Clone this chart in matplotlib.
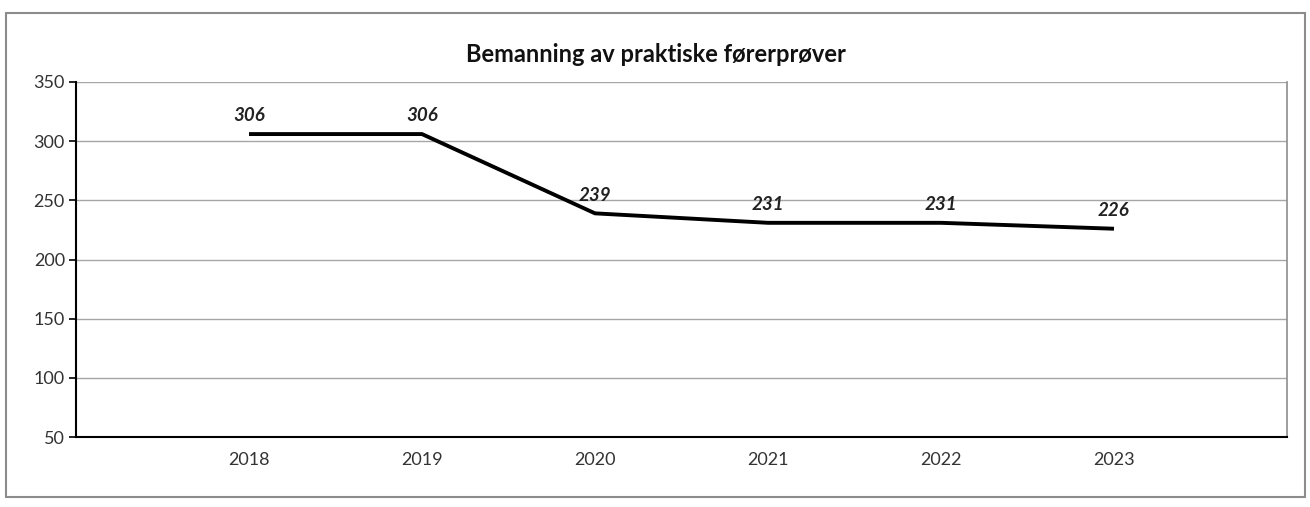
import matplotlib
matplotlib.use("Agg")
import matplotlib.pyplot as plt
from matplotlib.patches import Rectangle

years = ["2018", "2019", "2020", "2021", "2022", "2023"]
values = [306, 306, 239, 231, 231, 226]
title = "Bemanning av praktiske førerprøver"
yticks = [50, 100, 150, 200, 250, 300, 350]

plt.rcParams['font.family'] = ['Lato', 'DejaVu Sans']

W, H = 1310, 507
fig = plt.figure(figsize=(W / 100, H / 100), dpi=100)
fig.patches.append(Rectangle((6 / W, 1 - 497 / H), (1305 - 6) / W, (497 - 13) / H,
                             transform=fig.transFigure, fill=False,
                             edgecolor="#8c8c8c", linewidth=1.5))

ax = fig.add_axes([76 / W, 1 - 437 / H, (1287 - 76) / W, (437 - 82) / H])
x = list(range(len(years)))
ax.plot(x, values, color="black", linewidth=2.8, solid_capstyle="butt")
for xi, v in zip(x, values):
    ax.annotate(str(v), (xi, v), xytext=(0, 7), textcoords="offset points",
                ha="center", va="bottom", fontsize=13.5, fontweight="bold",
                fontstyle="italic", color="#222222")

ax.set_xlim(-1, 6)
ax.set_ylim(50, 350)
ax.set_yticks(yticks)
ax.set_xticks(x)
ax.set_xticklabels(years)
ax.tick_params(axis="x", length=0, pad=11, labelsize=13, labelcolor="#333333")
ax.tick_params(axis="y", length=5, width=1.2, direction="out", labelsize=13,
               labelcolor="#333333", pad=3)
ax.grid(axis="y", color="#a6a6a6", linewidth=1)
ax.set_axisbelow(True)
ax.spines["left"].set_color("black")
ax.spines["left"].set_linewidth(1.5)
ax.spines["bottom"].set_color("black")
ax.spines["bottom"].set_linewidth(1.5)
ax.spines["top"].set_visible(False)
ax.spines["right"].set_color("#8c8c8c")
ax.spines["right"].set_linewidth(1.2)

fig.text(656 / W, 1 - 55 / H, title, ha="center", va="center",
         fontsize=17, fontweight="bold", color="#111111")

fig.savefig("out.png", dpi=100)
